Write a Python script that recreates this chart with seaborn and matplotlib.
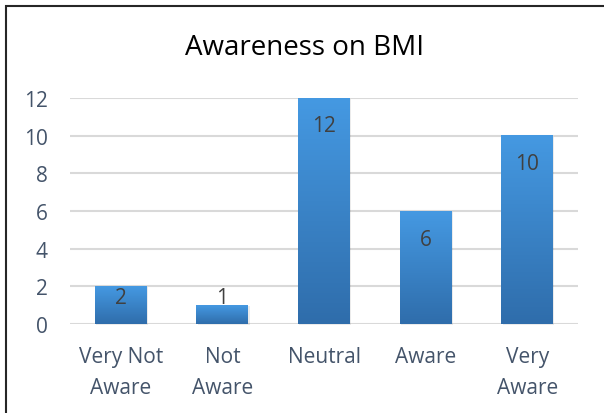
import numpy as np
import pandas as pd
import matplotlib
matplotlib.use("Agg")
import matplotlib.pyplot as plt
import seaborn as sns
from matplotlib.colors import LinearSegmentedColormap
from matplotlib.patches import Rectangle

categories = ["Very Not\nAware", "Not\nAware", "Neutral", "Aware", "Very\nAware"]
values = [2, 1, 12, 6, 10]
y_ticks = [0, 2, 4, 6, 8, 10, 12]
title = "Awareness on BMI"

sns.set_theme(style="white")
plt.rcParams['font.family'] = ['Open Sans', 'DejaVu Sans']

W, H = 604, 414
fig = plt.figure(figsize=(W / 100, H / 100), dpi=100)
ax = fig.add_axes([70 / W, 1 - 325 / H, 508 / W, 226 / H])

df = pd.DataFrame({"cat": categories, "val": values})
sns.barplot(data=df, x="cat", y="val", ax=ax, width=0.51, color="#3a84cc",
            saturation=1, zorder=3)

ax.set_ylim(0, 12)
ax.set_xlim(-0.5, len(categories) - 0.5)
ax.set_yticks(y_ticks)
ax.yaxis.grid(True, color="#d9d9d9", linewidth=1.5, zorder=0)
ax.xaxis.grid(False)
for s in ax.spines.values():
    s.set_visible(False)
ax.set_xlabel("")
ax.set_ylabel("")
tick_color = "#44546a"
ax.tick_params(axis="y", length=0, pad=16, labelsize=15, labelcolor=tick_color)
ax.tick_params(axis="x", length=0, pad=16, labelsize=15, labelcolor=tick_color)
for lab in ax.get_xticklabels():
    lab.set_linespacing(1.6)

# gradient fill on bars
cmap = LinearSegmentedColormap.from_list("g", ["#2f6dab", "#4599e2"])
grad = np.linspace(0, 1, 256).reshape(-1, 1)
for p in list(ax.patches):
    x0, w, h = p.get_x(), p.get_width(), p.get_height()
    p.set_facecolor("none")
    p.set_edgecolor("none")
    # subtle shadow
    ax.add_patch(Rectangle((x0 + 0.012, -0.05), w, h, facecolor="#000000",
                           alpha=0.08, edgecolor="none", zorder=2.5,
                           clip_on=False))
    ax.imshow(grad, extent=(x0, x0 + w, 0, h), origin="lower", cmap=cmap,
              aspect="auto", zorder=3, interpolation="bicubic")
ax.set_xlim(-0.5, len(categories) - 0.5)
ax.set_ylim(0, 12)

# data labels (inside end)
px_per_unit = ax.get_window_extent().height / 12
for i, v in enumerate(values):
    top_px = v * px_per_unit
    center_px = max(top_px - 28, 26)
    ax.text(i, center_px / px_per_unit, str(v), ha="center", va="center",
            fontsize=15, color="#404040", zorder=5)

fig.text(305 / W, 1 - 48 / H, title, ha="center", va="center",
         fontsize=20, color="#000000")

# outer frame (left and top edges visible)
fig.patches.append(Rectangle((6 / W, -0.1), 1.2, 1 - 7 / H + 0.1,
                             transform=fig.transFigure, fill=False,
                             edgecolor="#262626", linewidth=1.5))

fig.savefig("out.png", dpi=100)
